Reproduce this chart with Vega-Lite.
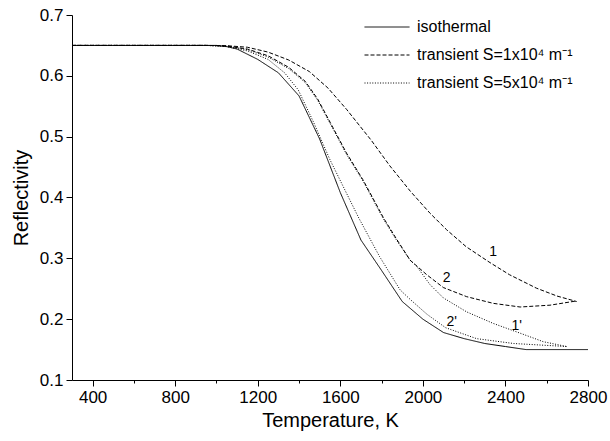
{
  "$schema": "https://vega.github.io/schema/vega-lite/v6.json",
  "width": 516,
  "height": 365,
  "autosize": {"type": "none"},
  "padding": {"left": 72, "top": 15, "right": 22, "bottom": 61},
  "background": "white",
  "config": {
    "view": {"stroke": null},
    "font": "Liberation Sans",
    "axis": {"domainColor": "black", "tickColor": "black", "labelColor": "black", "titleColor": "black", "grid": false, "labelFont": "Liberation Sans", "titleFont": "Liberation Sans", "titleFontWeight": "normal", "labelFontSize": 17, "titleFontSize": 20}
  },
  "datasets": {
    "curves": [
      {"curve": "iso", "type": "isothermal", "T": 300, "R": 0.65},
      {"curve": "iso", "type": "isothermal", "T": 1000, "R": 0.65},
      {"curve": "iso", "type": "isothermal", "T": 1050, "R": 0.648},
      {"curve": "iso", "type": "isothermal", "T": 1100, "R": 0.644},
      {"curve": "iso", "type": "isothermal", "T": 1200, "R": 0.627},
      {"curve": "iso", "type": "isothermal", "T": 1300, "R": 0.605},
      {"curve": "iso", "type": "isothermal", "T": 1400, "R": 0.567},
      {"curve": "iso", "type": "isothermal", "T": 1500, "R": 0.496},
      {"curve": "iso", "type": "isothermal", "T": 1600, "R": 0.408},
      {"curve": "iso", "type": "isothermal", "T": 1700, "R": 0.33},
      {"curve": "iso", "type": "isothermal", "T": 1800, "R": 0.28},
      {"curve": "iso", "type": "isothermal", "T": 1900, "R": 0.229},
      {"curve": "iso", "type": "isothermal", "T": 2000, "R": 0.2},
      {"curve": "iso", "type": "isothermal", "T": 2100, "R": 0.178},
      {"curve": "iso", "type": "isothermal", "T": 2200, "R": 0.168},
      {"curve": "iso", "type": "isothermal", "T": 2300, "R": 0.16},
      {"curve": "iso", "type": "isothermal", "T": 2400, "R": 0.155},
      {"curve": "iso", "type": "isothermal", "T": 2500, "R": 0.15},
      {"curve": "iso", "type": "isothermal", "T": 2800, "R": 0.15},

      {"curve": "1", "type": "transient S=1x10⁴ m⁻¹", "T": 300, "R": 0.65},
      {"curve": "1", "type": "transient S=1x10⁴ m⁻¹", "T": 950, "R": 0.65},
      {"curve": "1", "type": "transient S=1x10⁴ m⁻¹", "T": 1050, "R": 0.6495},
      {"curve": "1", "type": "transient S=1x10⁴ m⁻¹", "T": 1150, "R": 0.647},
      {"curve": "1", "type": "transient S=1x10⁴ m⁻¹", "T": 1250, "R": 0.639},
      {"curve": "1", "type": "transient S=1x10⁴ m⁻¹", "T": 1350, "R": 0.626},
      {"curve": "1", "type": "transient S=1x10⁴ m⁻¹", "T": 1450, "R": 0.607},
      {"curve": "1", "type": "transient S=1x10⁴ m⁻¹", "T": 1540, "R": 0.58},
      {"curve": "1", "type": "transient S=1x10⁴ m⁻¹", "T": 1630, "R": 0.545},
      {"curve": "1", "type": "transient S=1x10⁴ m⁻¹", "T": 1750, "R": 0.494},
      {"curve": "1", "type": "transient S=1x10⁴ m⁻¹", "T": 1840, "R": 0.452},
      {"curve": "1", "type": "transient S=1x10⁴ m⁻¹", "T": 1940, "R": 0.41},
      {"curve": "1", "type": "transient S=1x10⁴ m⁻¹", "T": 2035, "R": 0.374},
      {"curve": "1", "type": "transient S=1x10⁴ m⁻¹", "T": 2115, "R": 0.347},
      {"curve": "1", "type": "transient S=1x10⁴ m⁻¹", "T": 2210, "R": 0.319},
      {"curve": "1", "type": "transient S=1x10⁴ m⁻¹", "T": 2325, "R": 0.293},
      {"curve": "1", "type": "transient S=1x10⁴ m⁻¹", "T": 2420, "R": 0.273},
      {"curve": "1", "type": "transient S=1x10⁴ m⁻¹", "T": 2550, "R": 0.251},
      {"curve": "1", "type": "transient S=1x10⁴ m⁻¹", "T": 2650, "R": 0.238},
      {"curve": "1", "type": "transient S=1x10⁴ m⁻¹", "T": 2745, "R": 0.229},

      {"curve": "2", "type": "transient S=1x10⁴ m⁻¹", "T": 300, "R": 0.65},
      {"curve": "2", "type": "transient S=1x10⁴ m⁻¹", "T": 950, "R": 0.65},
      {"curve": "2", "type": "transient S=1x10⁴ m⁻¹", "T": 1050, "R": 0.649},
      {"curve": "2", "type": "transient S=1x10⁴ m⁻¹", "T": 1150, "R": 0.644},
      {"curve": "2", "type": "transient S=1x10⁴ m⁻¹", "T": 1250, "R": 0.633},
      {"curve": "2", "type": "transient S=1x10⁴ m⁻¹", "T": 1350, "R": 0.614},
      {"curve": "2", "type": "transient S=1x10⁴ m⁻¹", "T": 1430, "R": 0.591},
      {"curve": "2", "type": "transient S=1x10⁴ m⁻¹", "T": 1490, "R": 0.562},
      {"curve": "2", "type": "transient S=1x10⁴ m⁻¹", "T": 1550, "R": 0.524},
      {"curve": "2", "type": "transient S=1x10⁴ m⁻¹", "T": 1630, "R": 0.473},
      {"curve": "2", "type": "transient S=1x10⁴ m⁻¹", "T": 1710, "R": 0.429},
      {"curve": "2", "type": "transient S=1x10⁴ m⁻¹", "T": 1810, "R": 0.366},
      {"curve": "2", "type": "transient S=1x10⁴ m⁻¹", "T": 1870, "R": 0.333},
      {"curve": "2", "type": "transient S=1x10⁴ m⁻¹", "T": 1938, "R": 0.297},
      {"curve": "2", "type": "transient S=1x10⁴ m⁻¹", "T": 2019, "R": 0.273},
      {"curve": "2", "type": "transient S=1x10⁴ m⁻¹", "T": 2099, "R": 0.252},
      {"curve": "2", "type": "transient S=1x10⁴ m⁻¹", "T": 2212, "R": 0.237},
      {"curve": "2", "type": "transient S=1x10⁴ m⁻¹", "T": 2341, "R": 0.226},
      {"curve": "2", "type": "transient S=1x10⁴ m⁻¹", "T": 2471, "R": 0.22},
      {"curve": "2", "type": "transient S=1x10⁴ m⁻¹", "T": 2616, "R": 0.223},
      {"curve": "2", "type": "transient S=1x10⁴ m⁻¹", "T": 2745, "R": 0.23},

      {"curve": "1p", "type": "transient S=5x10⁴ m⁻¹", "T": 300, "R": 0.65},
      {"curve": "1p", "type": "transient S=5x10⁴ m⁻¹", "T": 950, "R": 0.65},
      {"curve": "1p", "type": "transient S=5x10⁴ m⁻¹", "T": 1050, "R": 0.649},
      {"curve": "1p", "type": "transient S=5x10⁴ m⁻¹", "T": 1150, "R": 0.643},
      {"curve": "1p", "type": "transient S=5x10⁴ m⁻¹", "T": 1250, "R": 0.631},
      {"curve": "1p", "type": "transient S=5x10⁴ m⁻¹", "T": 1350, "R": 0.612},
      {"curve": "1p", "type": "transient S=5x10⁴ m⁻¹", "T": 1430, "R": 0.589},
      {"curve": "1p", "type": "transient S=5x10⁴ m⁻¹", "T": 1490, "R": 0.56},
      {"curve": "1p", "type": "transient S=5x10⁴ m⁻¹", "T": 1550, "R": 0.522},
      {"curve": "1p", "type": "transient S=5x10⁴ m⁻¹", "T": 1630, "R": 0.471},
      {"curve": "1p", "type": "transient S=5x10⁴ m⁻¹", "T": 1710, "R": 0.427},
      {"curve": "1p", "type": "transient S=5x10⁴ m⁻¹", "T": 1810, "R": 0.364},
      {"curve": "1p", "type": "transient S=5x10⁴ m⁻¹", "T": 1870, "R": 0.331},
      {"curve": "1p", "type": "transient S=5x10⁴ m⁻¹", "T": 1938, "R": 0.297},
      {"curve": "1p", "type": "transient S=5x10⁴ m⁻¹", "T": 1970, "R": 0.287},
      {"curve": "1p", "type": "transient S=5x10⁴ m⁻¹", "T": 2034, "R": 0.257},
      {"curve": "1p", "type": "transient S=5x10⁴ m⁻¹", "T": 2099, "R": 0.235},
      {"curve": "1p", "type": "transient S=5x10⁴ m⁻¹", "T": 2212, "R": 0.212},
      {"curve": "1p", "type": "transient S=5x10⁴ m⁻¹", "T": 2341, "R": 0.193},
      {"curve": "1p", "type": "transient S=5x10⁴ m⁻¹", "T": 2471, "R": 0.177},
      {"curve": "1p", "type": "transient S=5x10⁴ m⁻¹", "T": 2583, "R": 0.163},
      {"curve": "1p", "type": "transient S=5x10⁴ m⁻¹", "T": 2697, "R": 0.155},

      {"curve": "2p", "type": "transient S=5x10⁴ m⁻¹", "T": 300, "R": 0.65},
      {"curve": "2p", "type": "transient S=5x10⁴ m⁻¹", "T": 950, "R": 0.65},
      {"curve": "2p", "type": "transient S=5x10⁴ m⁻¹", "T": 1050, "R": 0.648},
      {"curve": "2p", "type": "transient S=5x10⁴ m⁻¹", "T": 1150, "R": 0.641},
      {"curve": "2p", "type": "transient S=5x10⁴ m⁻¹", "T": 1250, "R": 0.627},
      {"curve": "2p", "type": "transient S=5x10⁴ m⁻¹", "T": 1330, "R": 0.605},
      {"curve": "2p", "type": "transient S=5x10⁴ m⁻¹", "T": 1396, "R": 0.577},
      {"curve": "2p", "type": "transient S=5x10⁴ m⁻¹", "T": 1470, "R": 0.524},
      {"curve": "2p", "type": "transient S=5x10⁴ m⁻¹", "T": 1550, "R": 0.462},
      {"curve": "2p", "type": "transient S=5x10⁴ m⁻¹", "T": 1630, "R": 0.407},
      {"curve": "2p", "type": "transient S=5x10⁴ m⁻¹", "T": 1690, "R": 0.366},
      {"curve": "2p", "type": "transient S=5x10⁴ m⁻¹", "T": 1790, "R": 0.303},
      {"curve": "2p", "type": "transient S=5x10⁴ m⁻¹", "T": 1890, "R": 0.248},
      {"curve": "2p", "type": "transient S=5x10⁴ m⁻¹", "T": 1940, "R": 0.232},
      {"curve": "2p", "type": "transient S=5x10⁴ m⁻¹", "T": 2020, "R": 0.208},
      {"curve": "2p", "type": "transient S=5x10⁴ m⁻¹", "T": 2110, "R": 0.186},
      {"curve": "2p", "type": "transient S=5x10⁴ m⁻¹", "T": 2260, "R": 0.168},
      {"curve": "2p", "type": "transient S=5x10⁴ m⁻¹", "T": 2440, "R": 0.16},
      {"curve": "2p", "type": "transient S=5x10⁴ m⁻¹", "T": 2697, "R": 0.155}
    ],
    "labels": [
      {"text": "1", "T": 2340, "R": 0.31},
      {"text": "2", "T": 2115, "R": 0.268},
      {"text": "2'", "T": 2140, "R": 0.196},
      {"text": "1'", "T": 2455, "R": 0.188}
    ]
  },
  "layer": [
    {
      "data": {"name": "curves"},
      "mark": {"type": "line", "color": "black", "strokeWidth": 1, "clip": true},
      "encoding": {
        "x": {
          "field": "T", "type": "quantitative",
          "scale": {"domain": [300, 2800], "nice": false, "zero": false},
          "axis": {
            "title": "Temperature, K",
            "values": [400, 600, 800, 1000, 1200, 1400, 1600, 1800, 2000, 2200, 2400, 2600, 2800],
            "labelExpr": "datum.value % 400 == 0 ? toString(datum.value) : ''",
            "labelOverlap": false,
            "labelFlush": false,
            "tickSize": {"condition": {"test": "datum.value % 400 == 0", "value": 6}, "value": 3},
            "labelPadding": 3,
            "titlePadding": 5
          }
        },
        "y": {
          "field": "R", "type": "quantitative",
          "scale": {"domain": [0.1, 0.7], "nice": false, "zero": false},
          "axis": {
            "title": "Reflectivity",
            "values": [0.1, 0.15, 0.2, 0.25, 0.3, 0.35, 0.4, 0.45, 0.5, 0.55, 0.6, 0.65, 0.7],
            "labelExpr": "round(datum.value * 100) % 10 == 0 ? format(datum.value, '.1f') : ''",
            "labelOverlap": false,
            "labelFlush": false,
            "tickSize": {"condition": {"test": "round(datum.value * 100) % 10 == 0", "value": 6}, "value": 3},
            "labelPadding": 3,
            "titlePadding": 8
          }
        },
        "strokeDash": {
          "field": "type", "type": "nominal",
          "scale": {
            "domain": ["isothermal", "transient S=1x10⁴ m⁻¹", "transient S=5x10⁴ m⁻¹"],
            "range": [[1, 0], [4, 2], [1, 1.6]]
          },
          "legend": {
            "title": null,
            "orient": "none",
            "legendX": 292,
            "legendY": 1,
            "symbolType": "stroke",
            "symbolSize": 2025,
            "symbolStrokeColor": "black",
            "symbolStrokeWidth": 1,
            "clipHeight": 22,
            "rowPadding": 6,
            "labelFontSize": 16,
            "labelColor": "black",
            "labelOffset": 7,
            "labelFont": "Liberation Sans"
          }
        },
        "detail": {"field": "curve", "type": "nominal"}
      }
    },
    {
      "data": {"name": "labels"},
      "mark": {"type": "text", "fontSize": 14, "color": "black", "font": "Liberation Sans"},
      "encoding": {
        "x": {"field": "T", "type": "quantitative"},
        "y": {"field": "R", "type": "quantitative"},
        "text": {"field": "text"}
      }
    }
  ]
}
